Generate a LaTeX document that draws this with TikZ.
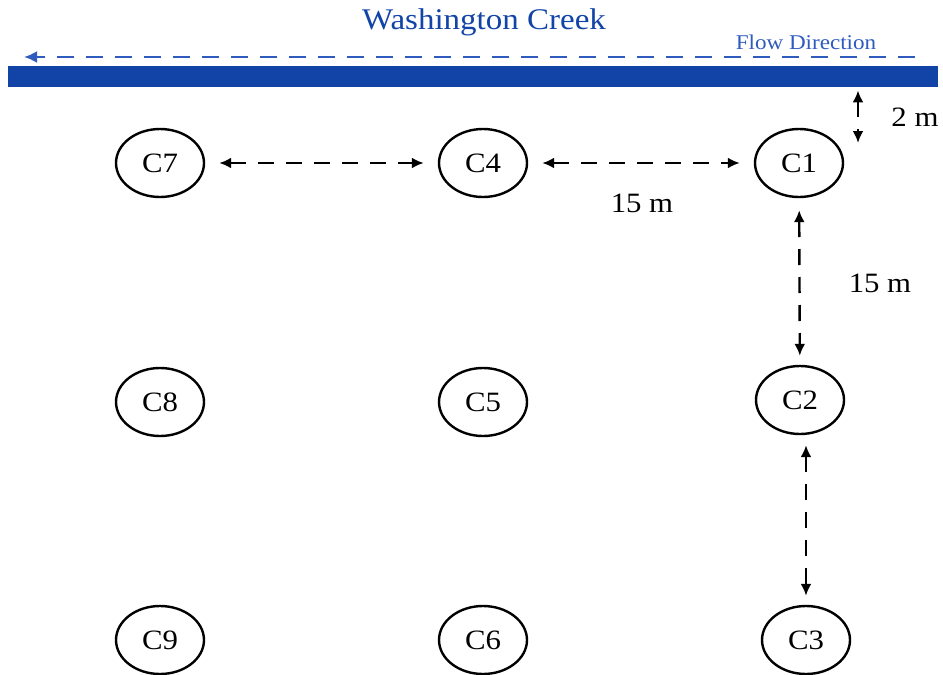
\documentclass[tikz,border=0pt]{standalone}
\usepackage{fontspec}
\setmainfont[FakeStretch=1.1]{Liberation Serif}
\usetikzlibrary{shapes.geometric,arrows.meta}
\definecolor{creekblue}{HTML}{1244A8}
\definecolor{flowblue}{HTML}{2F5BBF}
\tikzset{
  well/.style={ellipse,draw=black,line width=2.4pt,minimum width=88pt,minimum height=68pt,inner sep=0pt,font=\fontsize{28}{30}\selectfont},
  dist/.style={dash pattern=on 16pt off 12pt,line width=2.4pt,{Latex[length=12pt,width=11pt]}-{Latex[length=12pt,width=11pt]}},
  lbl/.style={font=\fontsize{28}{30}\selectfont,inner sep=0pt}
}
\begin{document}
\begin{tikzpicture}[x=1pt,y=-1pt]
\useasboundingbox (0,0) rectangle (943,675);
% creek
\node[lbl,text=creekblue,font=\fontsize{30}{32}\selectfont] (title) at (484,22) {Washington Creek};
\node[lbl,text=flowblue,font=\fontsize{21}{23}\selectfont] (flow) at (806,42) {Flow Direction};
\node[fill=creekblue,draw=none,minimum width=930pt,minimum height=21pt,inner sep=0pt,anchor=north west] (creek) at (8,66) {};
\coordinate (fs) at (915,57);
\coordinate (fe) at (24,57);
\draw[flowblue,line width=2.4pt,dash pattern=on 17pt off 12pt,-{Latex[length=13pt,width=12pt]}] (fs) -- (fe);
% wells
\node[well] (C7) at (160,163) {C7};
\node[well] (C4) at (483,163) {C4};
\node[well] (C1) at (799,163) {C1};
\node[well] (C8) at (160,402) {C8};
\node[well] (C5) at (483,402) {C5};
\node[well] (C2) at (800,400) {C2};
\node[well] (C9) at (160,640) {C9};
\node[well] (C6) at (483,640) {C6};
\node[well] (C3) at (806,640) {C3};
% distances
\draw[dist,shorten <=14pt,shorten >=14pt] (C7) -- (C4);
\draw[dist,shorten <=14pt,shorten >=14pt] (C4) -- (C1);
\draw[dist,shorten <=12pt,shorten >=9pt] (C1) -- (C2);
\draw[dist,shorten <=10pt,shorten >=9pt] (C3.north |- C2.south) -- (C3.north);
\coordinate (tm) at (858,143);
\draw[dist,shorten <=3pt] (creek.south -| tm) -- (tm);
\node[lbl] (l2m) at (915,117) {2 m};
\node[lbl] (l15a) at (642,203) {15 m};
\node[lbl] (l15b) at (880,283) {15 m};
\end{tikzpicture}
\end{document}
